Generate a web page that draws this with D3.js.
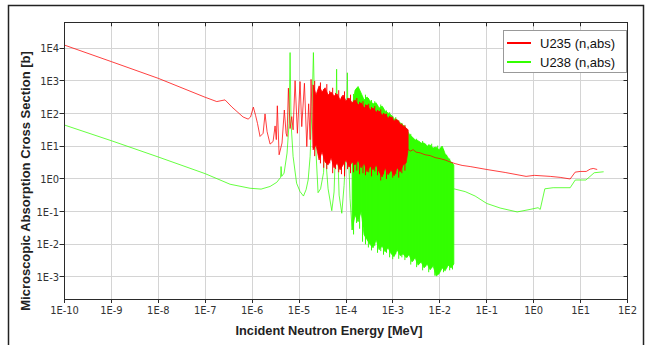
<!DOCTYPE html>
<html>
<head>
<meta charset="utf-8">
<script src="https://cdn.jsdelivr.net/npm/d3@7"></script>
<style>
  body { margin: 0; background: #fff; }
  svg { display: block; }
</style>
</head>
<body>
<div id="chart"></div>
<script>
// energies in MeV, cross sections in barns
const seriesNames = ['U235 (n,abs)', 'U238 (n,abs)'];
const seriesColors = ['#ff0000', '#33ff00'];
const xTickExps = [-10, -9, -8, -7, -6, -5, -4, -3, -2, -1, 0, 1, 2];
const yTickExps = [-3, -2, -1, 0, 1, 2, 3, 4];

// U235: thermal part + first resolved resonances
const u235Low = [
  [1e-10, 12500], [1e-9, 3900], [1e-8, 1200], [1e-7, 316], [1.76e-7, 234], [2.64e-7, 263],
  [3.72e-7, 158], [4.77e-7, 115], [6.4e-7, 79], [8.2e-7, 68], [9.25e-7, 79], [1.06e-6, 158],
  [1.18e-6, 89], [1.30e-6, 50], [1.47e-6, 20], [1.71e-6, 25], [1.88e-6, 98], [2.08e-6, 28],
  [2.41e-6, 11.7], [2.79e-6, 14], [3.08e-6, 42], [3.27e-6, 16], [3.44e-6, 174], [3.75e-6, 5.5],
  [4.33e-6, 12.6], [4.85e-6, 129], [5.28e-6, 25], [5.54e-6, 20], [5.92e-6, 603], [6.43e-6, 35],
  [6.98e-6, 81], [7.45e-6, 32], [8.22e-6, 1020], [9.2e-6, 25], [1.05e-5, 955], [1.14e-5, 40],
  [1.30e-5, 850], [1.46e-5, 9.8], [1.60e-5, 200], [1.72e-5, 16], [1.80e-5, 1120], [1.99e-5, 8.9]
];
// U235: dense resonance band (upper / lower envelope)
const u235BandE = [
  1.99e-5, 2.30e-5, 2.67e-5, 3.09e-5, 3.58e-5, 4.15e-5, 4.81e-5, 5.57e-5, 6.46e-5, 7.48e-5,
  8.67e-5, 1.00e-4, 1.16e-4, 1.35e-4, 1.56e-4, 1.81e-4, 2.10e-4, 2.43e-4, 2.82e-4, 3.27e-4,
  3.78e-4, 4.39e-4, 5.08e-4, 5.89e-4, 6.82e-4, 7.91e-4, 9.16e-4, 1.06e-3, 1.23e-3, 1.43e-3,
  1.65e-3, 1.91e-3, 2.11e-3
];
const u235BandHi = [
  759, 372, 708, 457, 617, 372, 457, 347, 398, 263, 372, 245, 302, 214, 263, 186, 214, 148,
  186, 129, 148, 112, 120, 91, 98, 74, 79, 60, 65, 48, 42, 36, 32
];
const u235BandLo = [
  7.8, 11, 3.8, 6.8, 3.3, 2.7, 4.5, 2.2, 3.1, 1.9, 2.7, 3.8, 2.3, 3.3, 2.7, 3.8, 2.2, 3.1,
  1.66, 2.5, 1.9, 2.7, 1.66, 1.15, 2.2, 1.35, 1.9, 1.26, 2.2, 1.66, 2.7, 3.1, 7.8
];
// U235: single resonance spikes sticking out of the band [E, peak, trough]
const u235Spikes = [
  [2.15e-5, 1000, 5], [2.85e-5, 900, 3], [3.35e-5, 560, 2.2], [3.9e-5, 800, 2], [4.5e-5, 500, 3],
  [5.2e-5, 620, 1.5], [6.0e-5, 430, 2], [7.0e-5, 520, 1.6], [8.0e-5, 330, 1.4], [9.3e-5, 480, 1.2],
  [1.08e-4, 300, 2], [1.25e-4, 380, 1.5], [1.45e-4, 250, 1.6], [1.7e-4, 300, 1.8], [1.95e-4, 230, 1.4],
  [2.3e-4, 240, 1.5], [2.6e-4, 190, 1.3], [3.05e-4, 200, 1.6], [3.5e-4, 160, 1.2], [4.1e-4, 170, 1.7],
  [4.7e-4, 130, 1.3], [5.5e-4, 135, 0.9], [6.3e-4, 105, 1.4], [7.3e-4, 100, 1.0], [8.5e-4, 85, 1.6],
  [9.9e-4, 80, 1.1], [1.15e-3, 70, 1.4], [1.33e-3, 62, 1.1], [1.55e-3, 50, 1.5], [1.8e-3, 45, 1.8]
];
// U235: unresolved + fast range
const u235High = [
  [2.11e-3, 8.3], [2.33e-3, 7.1], [2.70e-3, 7.9], [3.13e-3, 6.6], [3.80e-3, 6.3], [4.86e-3, 5.5],
  [6.21e-3, 5.2], [7.94e-3, 4.5], [1.01e-2, 4.2], [1.30e-2, 3.8], [1.66e-2, 3.3], [2.12e-2, 2.95],
  [2.98e-2, 2.6], [4.43e-2, 2.4], [0.1, 1.95], [0.247, 1.58], [0.69, 1.2], [1.03, 1.29],
  [2.25, 1.2], [3.67, 1.12], [6.0, 1.0], [7.67, 1.62], [9.8, 1.7], [13.2, 1.7], [16.0, 2.0],
  [18.6, 2.1], [22.6, 1.95]
];

// U238: thermal part + big resolved resonances
const u238Low = [
  [1e-10, 44.7], [1e-9, 14.8], [1e-8, 4.7], [1e-7, 1.45], [3.38e-7, 0.69], [9.0e-7, 0.52],
  [1.55e-6, 0.49], [2.41e-6, 0.59], [3.34e-6, 0.79], [4.04e-6, 1.12], [4.13e-6, 2.4], [4.26e-6, 1.2],
  [4.79e-6, 1.51], [5.54e-6, 6.2], [6.12e-6, 51], [6.43e-6, 7400], [6.75e-6, 51], [7.45e-6, 4.9],
  [8.85e-6, 0.74], [1.05e-5, 0.41], [1.24e-5, 0.30], [1.41e-5, 0.47], [1.56e-5, 0.93], [1.72e-5, 4.9],
  [1.89e-5, 162], [2.02e-5, 7400], [2.14e-5, 162], [2.30e-5, 6.2], [2.54e-5, 0.38], [2.87e-5, 0.5],
  [3.33e-5, 1.6], [3.58e-5, 250], [3.85e-5, 2.0], [4.15e-5, 0.5], [4.98e-5, 0.107], [5.57e-5, 0.4],
  [6.0e-5, 10], [6.31e-5, 2290], [6.62e-5, 10], [7.13e-5, 0.32], [8.13e-5, 0.089], [9.1e-5, 0.63],
  [1.01e-4, 10], [1.07e-4, 1780], [1.12e-4, 10], [1.22e-4, 0.25], [1.35e-4, 0.0275]
];
const u238BandE = [
  1.35e-4, 1.56e-4, 1.81e-4, 2.10e-4, 2.43e-4, 2.82e-4, 3.27e-4, 3.78e-4, 4.39e-4, 5.08e-4,
  5.89e-4, 6.82e-4, 7.91e-4, 9.16e-4, 1.06e-3, 1.23e-3, 1.43e-3, 1.65e-3, 1.91e-3, 2.21e-3,
  2.56e-3, 2.97e-3, 3.44e-3, 3.99e-3, 4.62e-3, 5.36e-3, 6.21e-3, 7.19e-3, 8.34e-3, 9.66e-3,
  1.12e-2, 1.30e-2, 1.50e-2, 1.74e-2, 1.99e-2
];
const u238BandHi = [
  158, 525, 676, 427, 263, 324, 245, 200, 214, 148, 170, 120, 105, 91, 69, 65, 52, 45, 36,
  24, 19.5, 15.8, 14.8, 12.6, 12.6, 10.2, 11, 8.9, 9.5, 7.8, 10.2, 5.9, 4.5, 3.3, 2.7
];
const u238BandLo = [
  0.0275, 0.079, 0.049, 0.1, 0.0195, 0.0138, 0.0098, 0.0078, 0.0138, 0.0068, 0.0089, 0.0059,
  0.0078, 0.0051, 0.0042, 0.0068, 0.0045, 0.0051, 0.0039, 0.0048, 0.0029, 0.0039, 0.0023,
  0.0029, 0.0019, 0.0025, 0.00166, 0.0022, 0.00107, 0.00126, 0.0019, 0.00155, 0.0023, 0.0019, 0.0025
];
const u238Spikes = [
  [1.45e-4, 400, 0.02], [1.68e-4, 600, 0.045], [1.95e-4, 500, 0.03], [2.25e-4, 330, 0.012],
  [2.6e-4, 380, 0.01], [3.0e-4, 300, 0.008], [3.5e-4, 260, 0.0065], [4.1e-4, 240, 0.009],
  [4.7e-4, 180, 0.0055], [5.5e-4, 190, 0.0062], [6.3e-4, 150, 0.0048], [7.3e-4, 125, 0.0055],
  [8.5e-4, 110, 0.0040], [9.9e-4, 85, 0.0035], [1.15e-3, 78, 0.0050], [1.33e-3, 60, 0.0036],
  [1.55e-3, 52, 0.0040], [1.8e-3, 42, 0.0033], [2.05e-3, 30, 0.0040], [2.4e-3, 24, 0.0024],
  [2.75e-3, 17, 0.0032], [3.2e-3, 17, 0.0020], [3.7e-3, 14, 0.0027], [4.3e-3, 14.5, 0.0016],
  [5.0e-3, 12, 0.0021], [5.8e-3, 11.5, 0.0014], [6.7e-3, 12, 0.0019], [7.8e-3, 9.5, 0.0011],
  [9.0e-3, 10.5, 0.0013], [1.04e-2, 9, 0.0016], [1.2e-2, 8, 0.0014], [1.4e-2, 5.5, 0.0019],
  [1.62e-2, 4.2, 0.0016], [1.86e-2, 3.2, 0.0017]
];
const u238High = [
  [1.99e-2, 0.5], [3.47e-2, 0.41], [5.66e-2, 0.30], [0.1, 0.178], [0.193, 0.129], [0.445, 0.098],
  [0.84, 0.117], [1.24, 0.132], [1.38, 0.117], [1.73, 0.5], [2.6, 0.54], [6.0, 0.54], [7.7, 0.93],
  [13.0, 0.93], [19.5, 1.55], [31, 1.66]
];

const W = 650, H = 345;
const plot = {left: 64.5, right: 627.5, top: 22.3, bottom: 299};

const svg = d3.select('#chart').append('svg')
  .attr('width', W)
  .attr('height', H);

svg.append('rect')
  .attr('x', 8.5).attr('y', 5.5)
  .attr('width', 635).attr('height', 360)
  .attr('fill', 'none')
  .attr('stroke', '#222')
  .attr('stroke-width', 1.5);

const x = d3.scaleLog().domain([1e-10, 1e2]).range([plot.left, plot.right]);
const y = d3.scaleLog().domain([2.12e-4, 6.24e4]).range([plot.bottom, plot.top]);
const crisp = v => Math.round(v - 0.5) + 0.5;

// grid
const grid = svg.append('g').attr('stroke', '#d4d4d4').attr('stroke-width', 1);
grid.selectAll('.vg').data(xTickExps.slice(1, -1)).enter().append('line')
  .attr('x1', d => crisp(x(Math.pow(10, d)))).attr('x2', d => crisp(x(Math.pow(10, d))))
  .attr('y1', plot.top).attr('y2', plot.bottom);
grid.selectAll('.hg').data(yTickExps).enter().append('line')
  .attr('y1', d => crisp(y(Math.pow(10, d)))).attr('y2', d => crisp(y(Math.pow(10, d))))
  .attr('x1', plot.left).attr('x2', plot.right);

svg.append('defs').append('clipPath').attr('id', 'clip')
  .append('rect')
  .attr('x', plot.left).attr('y', plot.top)
  .attr('width', plot.right - plot.left).attr('height', plot.bottom - plot.top);

const area = svg.append('g').attr('clip-path', 'url(#clip)');

const line = d3.line().x(d => x(d[0])).y(d => y(d[1]));
const band = d3.area().x(d => x(d[0])).y0(d => y(d[2])).y1(d => y(d[1]));

const series = [
  {low: u238Low, bandE: u238BandE, hi: u238BandHi, lo: u238BandLo, spikes: u238Spikes, high: u238High, color: seriesColors[1]},
  {low: u235Low, bandE: u235BandE, hi: u235BandHi, lo: u235BandLo, spikes: u235Spikes, high: u235High, color: seriesColors[0]}
];

series.forEach(s => {
  const rows = s.bandE.map((e, i) => [e, s.hi[i], s.lo[i]]);
  area.append('path')
    .attr('d', band(rows))
    .attr('fill', s.color)
    .attr('stroke', s.color)
    .attr('stroke-width', 0.8)
    .attr('stroke-linejoin', 'round');
  area.selectAll(null).data(s.spikes).enter().append('line')
    .attr('x1', d => x(d[0])).attr('x2', d => x(d[0]))
    .attr('y1', d => y(d[1])).attr('y2', d => y(d[2]))
    .attr('stroke', s.color)
    .attr('stroke-width', 1);
  [s.low, s.high].forEach(pts => {
    area.append('path')
      .attr('d', line(pts))
      .attr('fill', 'none')
      .attr('stroke', s.color)
      .attr('stroke-opacity', 0.75)
      .attr('stroke-width', 1);
  });
});

// frame + ticks
const axisCol = '#2a2a2a';
svg.append('rect')
  .attr('x', plot.left).attr('y', crisp(plot.top))
  .attr('width', plot.right - plot.left).attr('height', crisp(plot.bottom) - crisp(plot.top))
  .attr('fill', 'none').attr('stroke', axisCol).attr('stroke-width', 1);

const ticks = svg.append('g').attr('stroke', axisCol).attr('stroke-width', 1);
xTickExps.forEach(k => {
  const px = crisp(x(Math.pow(10, k)));
  ticks.append('line').attr('x1', px).attr('x2', px).attr('y1', plot.bottom).attr('y2', plot.bottom + 4);
  ticks.append('line').attr('x1', px).attr('x2', px).attr('y1', plot.top).attr('y2', plot.top + 4);
});
yTickExps.forEach(k => {
  const py = crisp(y(Math.pow(10, k)));
  ticks.append('line').attr('x1', plot.left - 5).attr('x2', plot.left).attr('y1', py).attr('y2', py);
  ticks.append('line').attr('x1', plot.right - 4).attr('x2', plot.right).attr('y1', py).attr('y2', py);
});

const tickFont = '"Liberation Sans Narrow", "DejaVu Sans Condensed", "Liberation Sans", Arial, sans-serif';
svg.selectAll('.xl').data(xTickExps).enter().append('text')
  .attr('x', d => x(Math.pow(10, d)))
  .attr('y', 314)
  .attr('text-anchor', 'middle')
  .style('font-family', tickFont)
  .style('font-size', '11px')
  .style('fill', '#333')
  .text(d => `1E${d}`);

svg.selectAll('.yl').data(yTickExps).enter().append('text')
  .attr('x', 59)
  .attr('y', d => y(Math.pow(10, d)) + 4)
  .attr('text-anchor', 'end')
  .style('font-family', tickFont)
  .style('font-size', '11px')
  .style('fill', '#333')
  .text(d => `1E${d}`);

// axis titles
svg.append('text')
  .attr('x', 329).attr('y', 335)
  .attr('text-anchor', 'middle')
  .style('font-family', '"Liberation Sans", Arial, sans-serif')
  .style('font-weight', 'bold')
  .style('font-size', '12.8px')
  .style('fill', '#222')
  .text('Incident Neutron Energy [MeV]');

svg.append('text')
  .attr('transform', 'translate(30,181) rotate(-90)')
  .attr('text-anchor', 'middle')
  .style('font-family', '"Liberation Sans", Arial, sans-serif')
  .style('font-weight', 'bold')
  .style('font-size', '13px')
  .style('fill', '#222')
  .text('Microscopic Absorption Cross Section [b]');

// legend
const legend = svg.append('g');
legend.append('rect')
  .attr('x', 503.5).attr('y', 30.5)
  .attr('width', 123).attr('height', 42)
  .attr('fill', '#fff')
  .attr('stroke', '#999');
seriesNames.forEach((name, i) => {
  const ly = 43 + i * 19;
  legend.append('line')
    .attr('x1', 507).attr('x2', 531).attr('y1', ly).attr('y2', ly)
    .attr('stroke', seriesColors[i]).attr('stroke-width', 2);
  legend.append('text')
    .attr('x', 540).attr('y', ly + 4.5)
    .style('font-family', '"Liberation Sans", Arial, sans-serif')
    .style('font-size', '13px')
    .style('fill', '#111')
    .text(name);
});
</script>
</body>
</html>
